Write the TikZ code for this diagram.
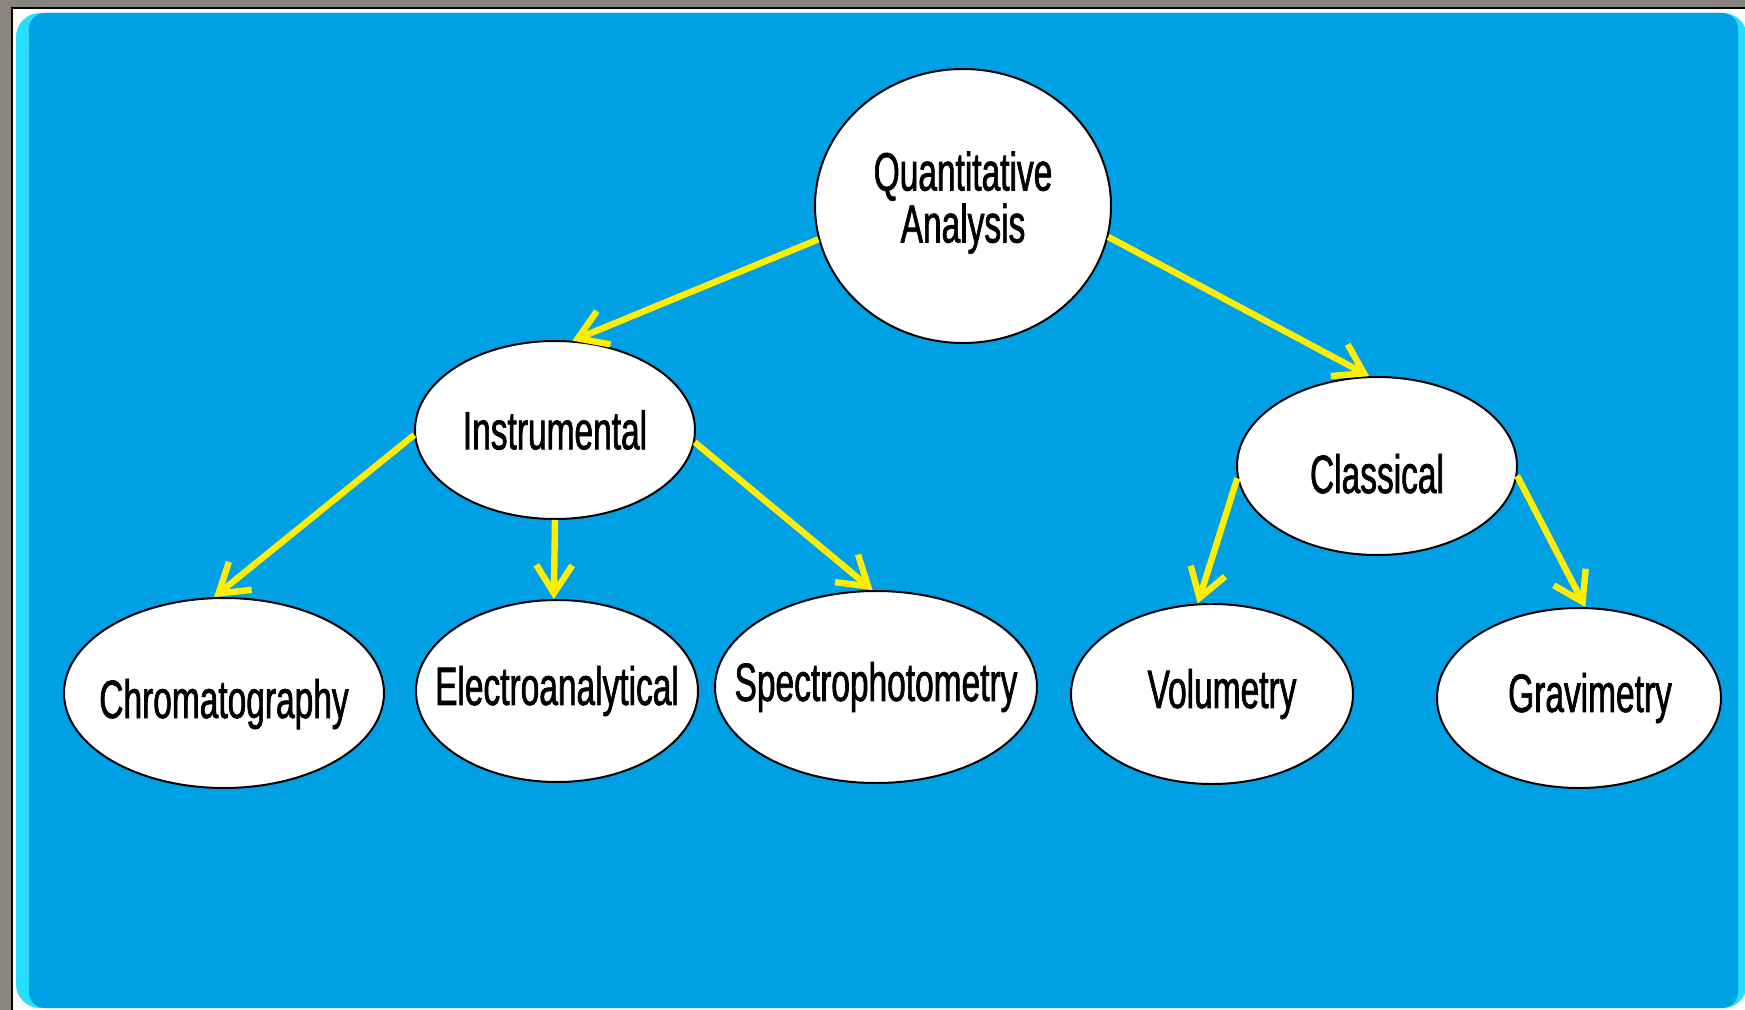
\documentclass[tikz,border=0pt]{standalone}
\usepackage{fontspec}
\setmainfont{Liberation Sans}[FakeStretch=0.62,FakeBold=1.2]
\usetikzlibrary{shapes.geometric, arrows.meta}
\definecolor{framegray}{RGB}{137,133,128}
\definecolor{panelblue}{RGB}{0,161,228}
\definecolor{edgecyan}{RGB}{40,222,255}
\definecolor{arrowyellow}{RGB}{255,238,0}
\tikzstyle{bubble} = [ellipse, draw=black, line width=1pt, fill=white, inner sep=-20pt, font=\fontsize{27}{26}\selectfont, align=center]
\tikzstyle{arrow} = [line width=3.2pt, arrowyellow, -{Straight Barb[length=14pt,width=18pt]}]

\begin{document}
\begin{tikzpicture}[x=0.5pt,y=-0.5pt]
		\useasboundingbox (0,0) rectangle (1745,1010);
		\fill[framegray] (0,0) rectangle (1745,1010);
		\fill[black] (11,7) rectangle (1745,1010);
		\fill[white] (13,9) rectangle (1745,1010);
		\fill[edgecyan, rounded corners=12pt] (16,13) rectangle (1747,1008);
		\fill[panelblue, rounded corners=8pt] (29,13) rectangle (1738,1008);

		\node[bubble, minimum width=148pt, minimum height=137pt, text depth=9pt] (quant) at (963,206) {Quantitative\\Analysis};
		\node[bubble, minimum width=140pt, minimum height=89pt] (instr) at (555,430) {Instrumental};
		\node[bubble, minimum width=140pt, minimum height=89pt, text height=27pt, text depth=0pt] (class) at (1377,466) {Classical};

		\node[bubble, minimum width=160pt, minimum height=95pt, text height=31pt, text depth=6pt] (chrom) at (224,693) {Chromatography};
		\node[bubble, minimum width=141pt, minimum height=91pt] (elec) at (557,691) {Electroanalytical};
		\node[bubble, minimum width=161pt, minimum height=96pt] (spec) at (876,687) {Spectrophotometry};
		\node[bubble, minimum width=141pt, minimum height=90pt] (volu) at (1212,694) {\hspace*{10pt}Volumetry};
		\node[bubble, minimum width=142pt, minimum height=90pt] (grav) at (1579,698) {\hspace*{11pt}Gravimetry};

		\draw[arrow] (quant.193) -- (instr.79);
		\draw[arrow] (quant.348) -- (class.95);
		\draw[arrow] (instr.182) -- (chrom.96);
		\draw[arrow] (instr.270) -- (elec.92);
		\draw[arrow] (instr.355) -- (spec.92);
		\draw[arrow] (class.185) -- (volu.99);
		\draw[arrow] (class.356) -- (grav.86);
	\end{tikzpicture}
\end{document}
